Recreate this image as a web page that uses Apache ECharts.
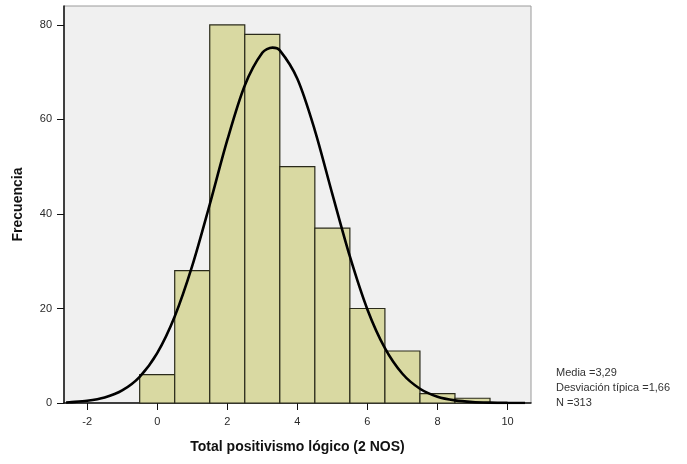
<!DOCTYPE html>
<html>
<head>
<meta charset="utf-8">
<script src="https://cdn.jsdelivr.net/npm/echarts@6/dist/echarts.min.js"></script>
<style>
html,body{margin:0;padding:0;background:#fff;}
#chart{width:687px;height:464px;}
</style>
</head>
<body>
<div id="chart"></div>
<script>
// Histogram bins (centre of bin) and frequencies
var binCenters = [0, 1, 2, 3, 4, 5, 6, 7, 8, 9];
var frequencies = [6, 28, 80, 78, 50, 37, 20, 11, 2, 1];

// Normal curve
var curveX = [-2.6, -2.5, -2, -1.5, -1, -0.5, 0, 0.5, 1, 1.5, 2, 2.5, 3, 3.29, 3.5, 4, 4.5, 5, 5.5, 6, 6.5, 7, 7.5, 8, 8.5, 9, 9.5, 10, 10.5];
var curveY = [0.12, 0.17, 0.47, 1.17, 2.67, 5.55, 10.55, 18.3, 29.0, 42.0, 55.6, 67.2, 74.1, 75.2, 74.6, 68.6, 57.7, 44.2, 31.0, 19.8, 11.6, 6.19, 3.02, 1.34, 0.55, 0.20, 0.07, 0.02, 0.01];

var xTickLabels = [-2, 0, 2, 4, 6, 8, 10];
var yTickLabels = [0, 20, 40, 60, 80];

var statsLines = ['Media =3,29', 'Desviación típica =1,66', 'N =313'];

var barData = binCenters.map(function (c, i) { return [c, frequencies[i]]; });
var curveData = curveX.map(function (x, i) { return [x, curveY[i]]; });

var chart = echarts.init(document.getElementById('chart'), null, {renderer: 'canvas'});
var font = '"Liberation Sans", Arial, sans-serif';

chart.setOption({
  animation: false,
  backgroundColor: '#ffffff',
  grid: {
    left: 64, top: 6, right: 156, bottom: 61,
    show: true, backgroundColor: '#f0f0f0', borderColor: '#9a9a9a', borderWidth: 1
  },
  xAxis: {
    type: 'value', min: -2.66, max: 10.67,
    name: 'Total positivismo lógico (2 NOS)',
    nameLocation: 'middle', nameGap: 37,
    nameTextStyle: {fontFamily: font, fontWeight: 'bold', fontSize: 14, color: '#111'},
    axisLine: {show: true, onZero: false, lineStyle: {color: '#111', width: 1.5}},
    axisTick: {show: true, length: 7, customValues: xTickLabels, lineStyle: {color: '#111'}},
    axisLabel: {customValues: xTickLabels, margin: 13, fontFamily: font, fontSize: 11, color: '#2a2a2a'},
    splitLine: {show: false}
  },
  yAxis: {
    type: 'value', min: 0, max: 84,
    name: 'Frecuencia',
    nameLocation: 'middle', nameGap: 39,
    nameTextStyle: {fontFamily: font, fontWeight: 'bold', fontSize: 14, color: '#111'},
    axisLine: {show: true, onZero: false, lineStyle: {color: '#111', width: 1.5}},
    axisTick: {show: true, length: 7, customValues: yTickLabels, lineStyle: {color: '#111'}},
    axisLabel: {customValues: yTickLabels, margin: 12, fontFamily: font, fontSize: 11, color: '#2a2a2a'},
    splitLine: {show: false}
  },
  series: [
    {
      type: 'custom',
      data: barData,
      renderItem: function (params, api) {
        var c = api.value(0), v = api.value(1);
        var p0 = api.coord([c - 0.5, v]);
        var p1 = api.coord([c + 0.5, 0]);
        return {
          type: 'rect',
          shape: {x: p0[0], y: p0[1], width: p1[0] - p0[0], height: p1[1] - p0[1]},
          style: {fill: '#d9d9a2', stroke: '#2a2a1a', lineWidth: 1.2}
        };
      },
      z: 2
    },
    {
      type: 'line',
      data: curveData,
      smooth: 0.3,
      showSymbol: false,
      lineStyle: {color: '#000', width: 2.6},
      z: 3
    }
  ],
  graphic: [
    {
      type: 'text', left: 556, top: 365,
      style: {text: statsLines.join('\n'), fontFamily: font, fontSize: 11, lineHeight: 15, fill: '#333'}
    }
  ]
});
</script>
</body>
</html>
